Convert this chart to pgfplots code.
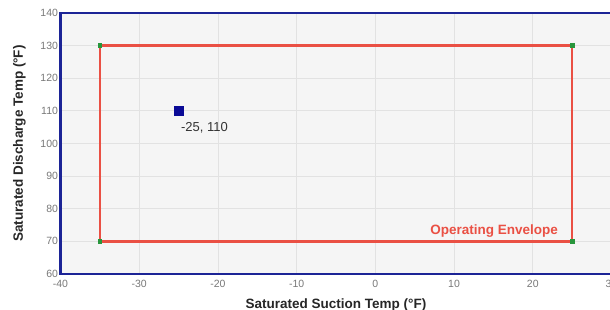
\documentclass[border=0pt]{standalone}
\usepackage{pgfplots}
\pgfplotsset{compat=1.18}
\usepackage{fontspec}
\setmainfont{Liberation Sans}
\definecolor{axblue}{RGB}{28,36,150}
\definecolor{envred}{RGB}{234,80,68}
\definecolor{ticklab}{RGB}{120,120,120}
\definecolor{gridc}{RGB}{226,226,226}
\definecolor{bgc}{RGB}{245,245,245}
\definecolor{ptblue}{RGB}{10,10,150}
\definecolor{cornergreen}{RGB}{40,150,60}
\begin{document}
\begin{tikzpicture}
\begin{axis}[name=ax,
  scale only axis, width=551bp, height=261bp,
  xmin=-40, xmax=30, ymin=60, ymax=140,
  xtick={-40,-30,...,30}, ytick={60,70,...,140},
  axis background/.style={fill=bgc},
  grid=major, major grid style={gridc, line width=0.8bp},
  axis line style={axblue, line width=2bp},
  tick style={draw=none},
  /pgf/number format/assume math mode=true,
  tick label style={font=\fontsize{10.5bp}{12bp}\selectfont, text=ticklab},
  yticklabel style={xshift=1bp},
  xticklabel style={yshift=-3bp},
  xlabel={\textbf{Saturated Suction Temp (°F)}},
  ylabel={\textbf{Saturated Discharge Temp (°F)}},
  label style={font=\fontsize{13.5bp}{15bp}\selectfont, text=black!85},
  xlabel style={yshift=-4bp},
  ylabel style={yshift=8bp},
  clip=false,
]
\addplot[envred, line width=2.3bp, mark=square*, mark size=1.2bp,
  mark options={fill=cornergreen, draw=cornergreen}]
  coordinates {(-35,70) (-35,130) (25,130) (25,70) (-35,70)};
\addplot[only marks, mark=square*, mark size=4.5bp, ptblue]
  coordinates {(-25,110)};
\node[anchor=base west, font=\fontsize{13bp}{14bp}\selectfont, text=black!80, inner sep=0pt]
  at (axis cs:-24.7,103.6) {-25, 110};
\node[anchor=east, font=\bfseries\fontsize{13.5bp}{15bp}\selectfont, text=envred, inner sep=0pt]
  at (axis cs:23.2,73.3) {Operating Envelope};
\end{axis}
\pgfresetboundingbox
\path ([xshift=-60.5bp,yshift=-35bp]ax.south west) rectangle ([xshift=-1.5bp,yshift=13bp]ax.north east);
\end{tikzpicture}
\end{document}
